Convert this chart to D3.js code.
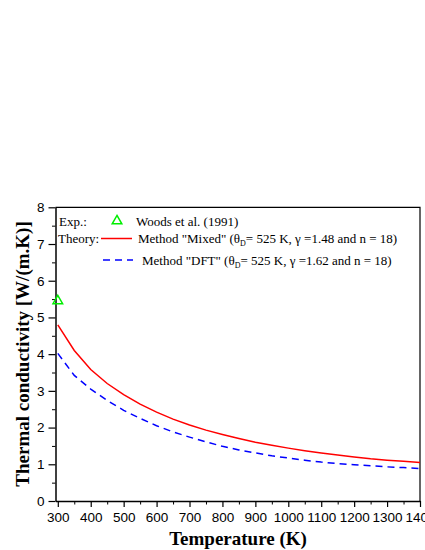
<!DOCTYPE html>
<html>
<head>
<meta charset="utf-8">
<script src="https://cdn.jsdelivr.net/npm/d3@7/dist/d3.min.js"></script>
<style>
  html, body { margin: 0; padding: 0; background: #fff; }
  svg { display: block; }
  .tick text { font-family: "Liberation Sans", Arial, sans-serif; font-size: 13.5px; fill: #000; }
  .axis path, .axis line { stroke: #000; }
  .legend text { font-family: "Liberation Serif", "Times New Roman", serif; font-size: 13px; fill: #000; }
  .title { font-family: "Liberation Serif", "Times New Roman", serif; font-size: 19px; font-weight: bold; fill: #000; }
</style>
</head>
<body>
<div id="chart"></div>
<script>
// temperatures (K)
const temps = [300, 350, 400, 450, 500, 550, 600, 650, 700, 750, 800, 850, 900,
  950, 1000, 1050, 1100, 1150, 1200, 1250, 1300, 1350, 1400]
// Method "Mixed"
const mixed = [4.80, 4.10, 3.58, 3.20, 2.90, 2.64, 2.42, 2.23, 2.07, 1.93, 1.81, 1.70, 1.60,
  1.52, 1.44, 1.37, 1.31, 1.25, 1.20, 1.15, 1.11, 1.08, 1.05]
// Method "DFT"
const dft = [4.02, 3.42, 3.05, 2.74, 2.47, 2.25, 2.05, 1.88, 1.74, 1.61, 1.49, 1.39, 1.31,
  1.23, 1.17, 1.11, 1.06, 1.02, 0.99, 0.96, 0.93, 0.91, 0.88]
// Woods et al. (1991)
const expT = [300]
const expK = [5.45]

const xTicks = d3.range(300, 1401, 100)
const xMinor = d3.range(350, 1400, 100)
const yTicks = d3.range(0, 9, 1)
const yMinor = d3.range(0.5, 8, 1)

const width = 425, height = 550
const margin = { top: 207.3, right: 5, bottom: 49, left: 55.5 }

const svg = d3.select("#chart").append("svg")
  .attr("width", width)
  .attr("height", height)

let x = d3.scaleLinear().domain([293, 1400]).range([margin.left, width - margin.right])
let y = d3.scaleLinear().domain([0, 8]).range([height - margin.bottom, margin.top])

// frame top / right
svg.append("path")
  .attr("d", `M${x(293)},${y(8)}H${x(1400)}V${y(0)}`)
  .attr("fill", "none")
  .attr("stroke", "#000")
  .attr("stroke-width", 1.2)

// x axis
svg.append("g")
  .attr("class", "x axis")
  .attr("transform", `translate(0,${y(0)})`)
  .call(d3.axisBottom(x).tickValues(xTicks).tickFormat(d3.format("d"))
    .tickSize(6).tickPadding(5).tickSizeOuter(0))
  .call(g => g.select(".domain").attr("stroke-width", 1.5))
  .call(g => g.selectAll(".tick line").attr("stroke-width", 1.2))

svg.append("g")
  .attr("class", "x axis minor")
  .attr("transform", `translate(0,${y(0)})`)
  .call(d3.axisBottom(x).tickValues(xMinor).tickSize(3.5).tickFormat("").tickSizeOuter(0))
  .call(g => g.select(".domain").remove())

// y axis
svg.append("g")
  .attr("class", "y axis")
  .attr("transform", `translate(${x(293)},0)`)
  .call(d3.axisLeft(y).tickValues(yTicks).tickFormat(d3.format("d"))
    .tickSize(7).tickPadding(4).tickSizeOuter(0))
  .call(g => g.select(".domain").attr("stroke-width", 1.5))
  .call(g => g.selectAll(".tick line").attr("stroke-width", 1.2))

svg.append("g")
  .attr("class", "y axis minor")
  .attr("transform", `translate(${x(293)},0)`)
  .call(d3.axisLeft(y).tickValues(yMinor).tickSize(3.5).tickFormat("").tickSizeOuter(0))
  .call(g => g.select(".domain").remove())

// curves
let line = d3.line()
  .x(d => x(d[0]))
  .y(d => y(d[1]))

svg.append("path")
  .datum(temps.map((t, i) => [t, mixed[i]]))
  .attr("d", line)
  .attr("fill", "none")
  .attr("stroke", "#ff0000")
  .attr("stroke-width", 1.5)

svg.append("path")
  .datum(temps.map((t, i) => [t, dft[i]]))
  .attr("d", line)
  .attr("fill", "none")
  .attr("stroke", "#0000ff")
  .attr("stroke-width", 1.5)
  .attr("stroke-dasharray", "7,5")

// experimental point
let tri = d3.symbol().type(d3.symbolTriangle).size(40)
svg.selectAll(".exp")
  .data(expT.map((t, i) => [t, expK[i]]))
  .enter()
  .append("path")
  .attr("class", "exp")
  .attr("d", tri)
  .attr("transform", d => `translate(${x(d[0])},${y(d[1])})`)
  .attr("fill", "none")
  .attr("stroke", "#00ee00")
  .attr("stroke-width", 1.5)

// legend
let lg = svg.append("g").attr("class", "legend")
lg.append("text").attr("x", 59).attr("y", 226).text("Exp.:")
lg.append("path").attr("d", tri)
  .attr("transform", "translate(117,221)")
  .attr("fill", "none").attr("stroke", "#00ee00").attr("stroke-width", 1.5)
lg.append("text").attr("x", 136).attr("y", 226).text("Woods et al. (1991)")

lg.append("text").attr("x", 58).attr("y", 242.5).text("Theory:")
lg.append("line").attr("x1", 101).attr("x2", 132).attr("y1", 238.5).attr("y2", 238.5)
  .attr("stroke", "#ff0000").attr("stroke-width", 1.5)
lg.append("line").attr("x1", 103).attr("x2", 133).attr("y1", 260).attr("y2", 260)
  .attr("stroke", "#0000ff").attr("stroke-width", 1.5).attr("stroke-dasharray", "7,5")

const legendLabel = (xp, yp, name, gamma) => {
  let t = lg.append("text").attr("x", xp).attr("y", yp)
  t.append("tspan").text(`Method "${name}" (θ`)
  t.append("tspan").attr("dy", 3).attr("font-size", "8px").text("D")
  t.append("tspan").attr("dy", -3).text(`= 525 K, γ =${gamma} and n = 18)`)
}
legendLabel(138, 242.5, "Mixed", "1.48")
legendLabel(142, 264.5, "DFT", "1.62")

// axis titles
svg.append("text")
  .attr("class", "title")
  .attr("x", 238)
  .attr("y", 545)
  .attr("text-anchor", "middle")
  .text("Temperature (K)")

svg.append("text")
  .attr("class", "title")
  .attr("transform", "translate(29,354) rotate(-90)")
  .attr("text-anchor", "middle")
  .text("Thermal conductivity [W/(m.K)]")
</script>
</body>
</html>
